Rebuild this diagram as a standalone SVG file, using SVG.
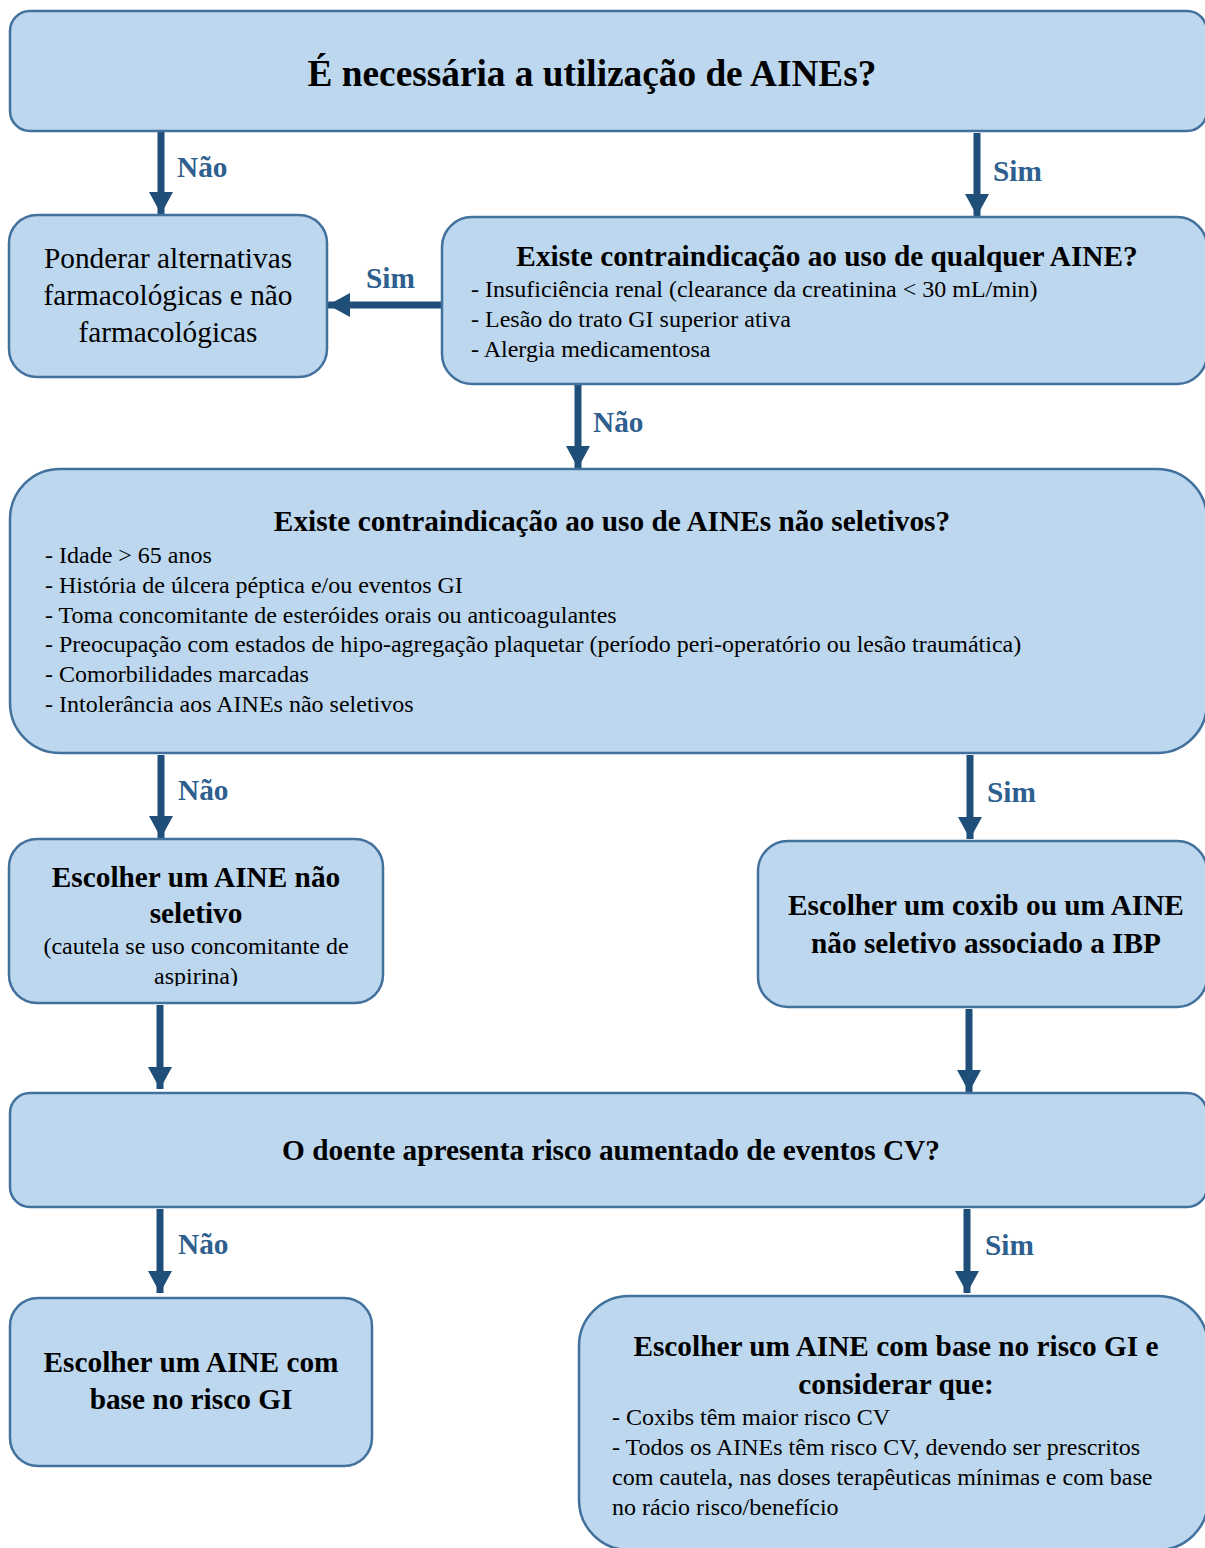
<svg xmlns="http://www.w3.org/2000/svg" width="1205" height="1548" viewBox="0 0 1205 1548">
<style>
.box{fill:#BDD7EE;stroke:#41719C;stroke-width:2.5}
.t{font-family:"Liberation Serif","Times New Roman",serif;fill:#000}
.b{font-weight:bold;font-size:29.3px}
.r{font-size:24px}
.c{text-anchor:middle}
.lbl{font-family:"Liberation Serif","Times New Roman",serif;font-weight:bold;font-size:29.3px;fill:#2E5F8E}
.arr{stroke:#1F4E79;stroke-width:7;fill:none}
</style>
<defs>
<marker id="ah" markerUnits="userSpaceOnUse" markerWidth="24" markerHeight="24" viewBox="0 0 22 24" refX="22" refY="12" orient="auto">
<path d="M0,0 L22,12 L0,24 Z" fill="#1F4E79"/>
</marker>
<clipPath id="clip5"><rect x="0" y="0" width="1205" height="986"/></clipPath>
</defs>
<rect width="1205" height="1548" fill="#fff"/>

<g id="connectors">
<line class="arr" x1="161" y1="131" x2="161" y2="214" marker-end="url(#ah)"/>
<line class="arr" x1="977" y1="133" x2="977" y2="216" marker-end="url(#ah)"/>
<line class="arr" x1="442" y1="305" x2="328" y2="305" marker-end="url(#ah)"/>
<line class="arr" x1="578" y1="385" x2="578" y2="468" marker-end="url(#ah)"/>
<line class="arr" x1="161" y1="755" x2="161" y2="838" marker-end="url(#ah)"/>
<line class="arr" x1="970" y1="755" x2="970" y2="839" marker-end="url(#ah)"/>
<line class="arr" x1="160" y1="1005" x2="160" y2="1089" marker-end="url(#ah)"/>
<line class="arr" x1="969" y1="1009" x2="969" y2="1092" marker-end="url(#ah)"/>
<line class="arr" x1="160" y1="1209" x2="160" y2="1293" marker-end="url(#ah)"/>
<line class="arr" x1="967" y1="1209" x2="967" y2="1293" marker-end="url(#ah)"/>
<text class="lbl" x="177" y="177">Não</text>
<text class="lbl" x="993" y="181">Sim</text>
<text class="lbl" x="366" y="288">Sim</text>
<text class="lbl" x="593" y="432">Não</text>
<text class="lbl" x="178" y="800">Não</text>
<text class="lbl" x="987" y="802">Sim</text>
<text class="lbl" x="178" y="1254">Não</text>
<text class="lbl" x="985" y="1255">Sim</text>
</g>

<g id="n1">
<rect class="box" x="10" y="11" width="1197" height="120" rx="20"/>
<text class="t c" x="592" y="86" font-size="37.3" font-weight="bold">É necessária a utilização de AINEs?</text>
</g>

<g id="n2">
<rect class="box" x="9" y="215" width="318" height="162" rx="28"/>
<text class="t c" x="168" y="268" font-size="29.3">Ponderar alternativas</text>
<text class="t c" x="168" y="305" font-size="29.3">farmacológicas e não</text>
<text class="t c" x="168" y="342" font-size="29.3">farmacológicas</text>
</g>

<g id="n3">
<rect class="box" x="442" y="217" width="765" height="167" rx="30"/>
<text class="t b c" x="827" y="266">Existe contraindicação ao uso de qualquer AINE?</text>
<text class="t r" x="471" y="297">- Insuficiência renal (clearance da creatinina &lt; 30 mL/min)</text>
<text class="t r" x="471" y="327">- Lesão do trato GI superior ativa</text>
<text class="t r" x="471" y="357">- Alergia medicamentosa</text>
</g>

<g id="n4">
<rect class="box" x="10" y="469" width="1197" height="284" rx="50"/>
<text class="t b c" x="612" y="531">Existe contraindicação ao uso de AINEs não seletivos?</text>
<text class="t r" x="45" y="563">- Idade &gt; 65 anos</text>
<text class="t r" x="45" y="593">- História de úlcera péptica e/ou eventos GI</text>
<text class="t r" x="45" y="623">- Toma concomitante de esteróides orais ou anticoagulantes</text>
<text class="t r" x="45" y="652">- Preocupação com estados de hipo-agregação plaquetar (período peri-operatório ou lesão traumática)</text>
<text class="t r" x="45" y="682">- Comorbilidades marcadas</text>
<text class="t r" x="45" y="712">- Intolerância aos AINEs não seletivos</text>
</g>

<g id="n5">
<rect class="box" x="9" y="839" width="374" height="164" rx="28"/>
<text class="t b c" x="196" y="887">Escolher um AINE não</text>
<text class="t b c" x="196" y="923">seletivo</text>
<text class="t r c" x="196" y="954">(cautela se uso concomitante de</text>
<text class="t r c" x="196" y="984" clip-path="url(#clip5)">aspirina)</text>
</g>

<g id="n6">
<rect class="box" x="758" y="841" width="449" height="166" rx="30"/>
<text class="t b c" x="986" y="915">Escolher um coxib ou um AINE</text>
<text class="t b c" x="986" y="953">não seletivo associado a IBP</text>
</g>

<g id="n7">
<rect class="box" x="10" y="1093" width="1197" height="114" rx="20"/>
<text class="t b c" x="611" y="1160">O doente apresenta risco aumentado de eventos CV?</text>
</g>

<g id="n8">
<rect class="box" x="10" y="1298" width="362" height="168" rx="28"/>
<text class="t b c" x="191" y="1372">Escolher um AINE com</text>
<text class="t b c" x="191" y="1409">base no risco GI</text>
</g>

<g id="n9">
<rect class="box" x="579" y="1296" width="629" height="254" rx="50"/>
<text class="t b c" x="896" y="1356">Escolher um AINE com base no risco GI e</text>
<text class="t b c" x="896" y="1394">considerar que:</text>
<text class="t r" x="612" y="1425">- Coxibs têm maior risco CV</text>
<text class="t r" x="612" y="1455">- Todos os AINEs têm risco CV, devendo ser prescritos</text>
<text class="t r" x="612" y="1485">com cautela, nas doses terapêuticas mínimas e com base</text>
<text class="t r" x="612" y="1515">no rácio risco/benefício</text>
</g>
</svg>
